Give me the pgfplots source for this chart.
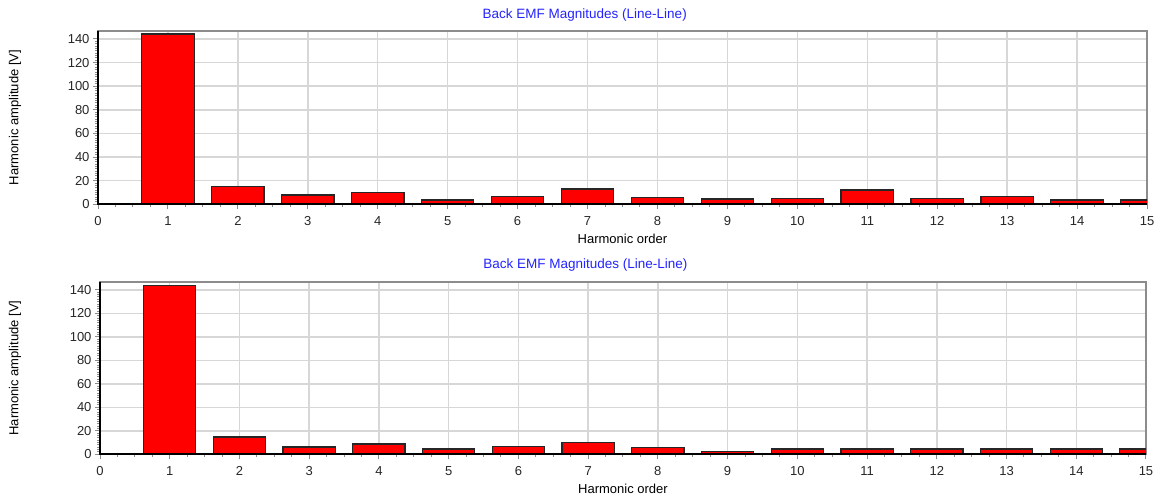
\documentclass[border=0pt]{standalone}
\usepackage{pgfplots}
\pgfplotsset{compat=1.18}
\usepackage{fontspec}
\setmainfont{Liberation Sans}
\definecolor{ttl}{RGB}{35,35,255}
\definecolor{gridc}{RGB}{215,215,215}
\definecolor{boxc}{RGB}{140,140,140}
\newcommand{\lblfont}{\fontsize{13bp}{15bp}\selectfont}
\pgfplotsset{
  emfstyle/.style={
    scale only axis,
    xmin=0, xmax=15, ymin=0, ymax=147,
    xtick={0,1,...,15}, ytick={0,20,...,140},
    minor x tick num=3, minor y tick num=9,
    tick align=outside, xtick pos=lower, ytick pos=left,
    major tick length=5bp, minor tick length=3bp,
    every tick/.style={draw=boxc, line width=1bp},
    grid=major,
    major grid style={draw=gridc, line width=1.5bp},
    axis line style={draw=boxc, line width=1.8bp},
    /pgf/number format/assume math mode=true,
    tick label style={font=\lblfont, text=black!85},
    xticklabel style={yshift=-4bp},
    xlabel={Harmonic order},
    ylabel={Harmonic amplitude [V]},
    ybar, bar width=0.75,
    clip mode=individual,
    after end axis/.code={
      \draw[black, line width=2.2bp] (rel axis cs:0,1) -- (rel axis cs:0,0) -- (rel axis cs:1,0);
    },
  },
  barstyle/.style={fill=red, draw=black!85, line width=1.2bp},
}
\begin{document}
\begin{tikzpicture}
\path[use as bounding box] (0,0) rectangle (1162bp,-497bp);
\begin{axis}[emfstyle,
  at={(98bp,-204.3bp)}, anchor=south west,
  width=1049bp, height=173.6bp,
  title={Back EMF Magnitudes (Line-Line)},
  every axis title/.style={at={(axis description cs:0.464,1.0905)}, anchor=center, font=\fontsize{13.5bp}{15bp}\selectfont, text=ttl},
  every axis x label/.style={at={(axis description cs:0.5,-0.2)}, anchor=center, font=\lblfont},
  every axis y label/.style={at={(axis description cs:-0.0791,0.5)}, rotate=90, anchor=center, font=\lblfont},
]
\addplot[barstyle] coordinates {
(1,144.2) (2,14.9) (3,7.9) (4,9.8) (5,3.6) (6,6.8) (7,13.0) (8,5.6)
(9,4.5) (10,4.8) (11,12.1) (12,4.8) (13,6.8) (14,3.6) (15,3.6)};
\end{axis}
\begin{axis}[emfstyle,
  at={(100bp,-454.3bp)}, anchor=south west,
  width=1046bp, height=172.6bp,
  title={Back EMF Magnitudes (Line-Line)},
  every axis title/.style={at={(axis description cs:0.464,1.097)}, anchor=center, font=\fontsize{13.5bp}{15bp}\selectfont, text=ttl},
  every axis x label/.style={at={(axis description cs:0.5,-0.201)}, anchor=center, font=\lblfont},
  every axis y label/.style={at={(axis description cs:-0.0813,0.5)}, rotate=90, anchor=center, font=\lblfont},
]
\addplot[barstyle] coordinates {
(1,144.0) (2,14.7) (3,6.2) (4,8.8) (5,4.5) (6,6.8) (7,9.9) (8,5.6)
(9,2.6) (10,4.5) (11,4.5) (12,4.5) (13,4.5) (14,4.5) (15,4.5)};
\end{axis}
\end{tikzpicture}
\end{document}
